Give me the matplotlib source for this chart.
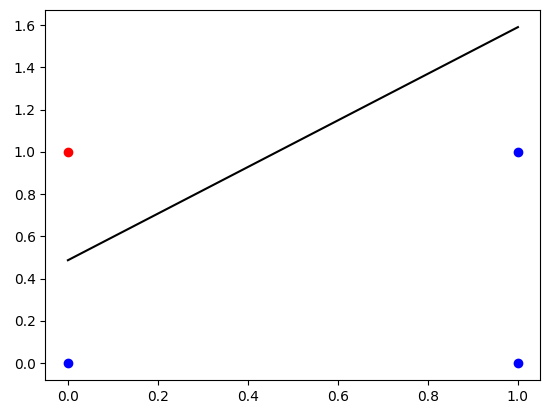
import matplotlib
matplotlib.use("Agg")
import matplotlib.pyplot as plt

red_x = [0]
red_y = [1]
blue_x = [0, 1, 1]
blue_y = [0, 1, 0]
line_x = [0, 1]
line_y = [0.487, 1.59]

fig, ax = plt.subplots(figsize=(5.47, 4.13), dpi=100)
fig.subplots_adjust(left=0.083, right=0.988, top=0.975, bottom=0.08)
ax.scatter(red_x, red_y, color='red')
ax.scatter(blue_x, blue_y, color='blue')
ax.plot(line_x, line_y, color='black')
fig.savefig("out.png")
